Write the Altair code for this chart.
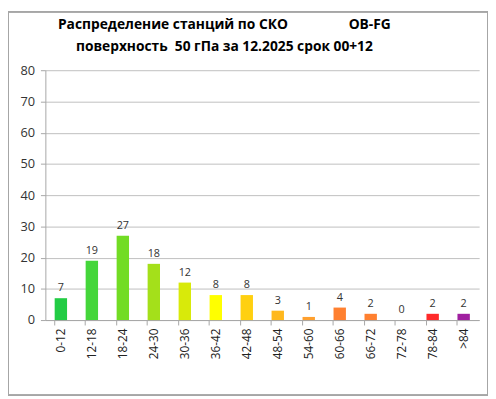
import altair as alt
import pandas as pd

categories = ["0-12", "12-18", "18-24", "24-30", "30-36", "36-42", "42-48",
              "48-54", "54-60", "60-66", "66-72", "72-78", "78-84", ">84"]
counts = [7, 19, 27, 18, 12, 8, 8, 3, 1, 4, 2, 0, 2, 2]
colors = ["#22CC44", "#44D63A", "#72DC24", "#A4E01A", "#D8EA0A", "#FFFF00", "#FFD010",
          "#FFB81E", "#FFA02E", "#FF8030", "#FF8030", "#FF6030", "#FF2A2A", "#A020A0"]

title_line1 = "Распределение станций по СКО" + "\u00a0" * 17 + "OB-FG"
title_line2 = "поверхность\u00a0\u00a050 гПа за 12.2025 срок 00+12"

df = pd.DataFrame({"cat": categories, "n": counts, "col": colors})

W, H = 441, 254
FONT = "Open Sans"

x = alt.X("cat:N", sort=categories, title=None,
          scale=alt.Scale(paddingInner=0.6, paddingOuter=0.3),
          axis=alt.Axis(labelAngle=-90, labelFontSize=12, labelColor="#222222",
                        labelFont=FONT, domainColor="#A6A6A6", tickColor="#A6A6A6",
                        tickSize=5, labelPadding=3, bandPosition=0, labelBaseline="middle",
                        labelAlign="right", grid=False))
y = alt.Y("n:Q", title=None,
          scale=alt.Scale(domain=[0, 80]),
          axis=alt.Axis(values=list(range(0, 90, 10)), labelFontSize=13, labelOverlap=False,
                        labelColor="#333333", labelFont=FONT, domainColor="#A6A6A6",
                        tickColor="#A6A6A6", tickSize=5, labelPadding=6,
                        gridColor="#BFBFBF", gridWidth=1))

base = alt.Chart(df).encode(x=x, y=y)

bars = base.mark_bar(stroke=None).encode(color=alt.Color("col:N", scale=None))

labels = base.mark_text(baseline="bottom", dy=-5, fontSize=11,
                        color="#333333", font=FONT).encode(text="n:Q")


def title_text(line, ypos):
    return alt.Chart(pd.DataFrame({"t": [line]})).mark_text(
        fontSize=14, fontWeight="bold", font=FONT, color="#000000",
        baseline="middle", align="center").encode(
        text="t:N", x=alt.value(182), y=alt.value(ypos))


t1 = title_text(title_line1, -46)
t2 = title_text(title_line2, -24)

border = alt.Chart(df).mark_rect(fill=None, stroke="#A6A6A6", strokeWidth=1).encode(
    x=alt.value(-37.5), x2=alt.value(W + 8.5),
    y=alt.value(-59.5), y2=alt.value(H + 76.5))

chart = alt.layer(bars, labels, t1, t2, border).properties(
    width=W, height=H,
    autosize=alt.AutoSizeParams(type="none"),
    padding={"left": 38, "top": 60, "right": 9, "bottom": 77},
).configure_view(stroke=None)

chart.save("out.html", embed_options={"renderer": "svg", "actions": False})
